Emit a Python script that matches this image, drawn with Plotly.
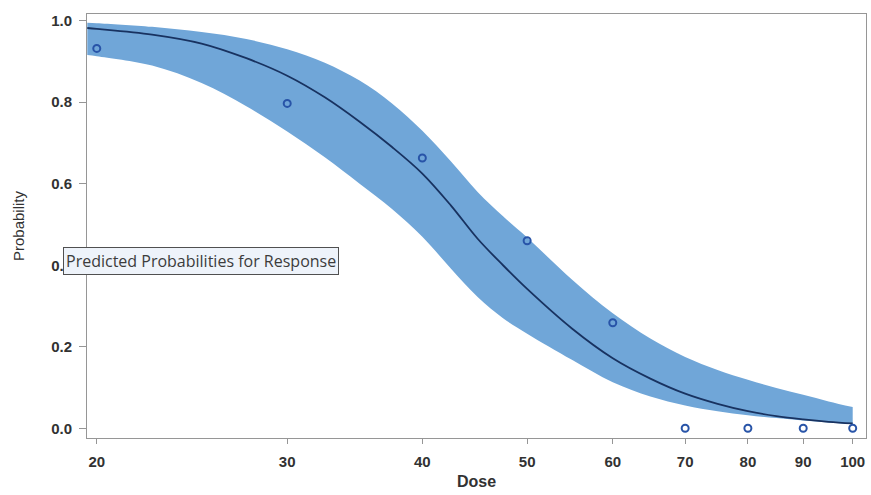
import plotly.graph_objects as go

# Observed proportions
obs_dose = [20, 30, 40, 50, 60, 70, 80, 90, 100]
obs_prob = [0.932, 0.797, 0.663, 0.460, 0.259, 0.0, 0.0, 0.0, 0.0]

# Predicted curve and confidence band
curve_dose = [19.6, 20, 22.5, 25, 27.5, 30, 32.5, 35, 37.5, 40, 42.5, 45, 47.5,
              50, 55, 60, 65, 70, 75, 80, 85, 90, 95, 100]
pred = [0.982, 0.980, 0.966, 0.944, 0.908, 0.865, 0.812, 0.752, 0.690, 0.625,
        0.547, 0.465, 0.400, 0.342, 0.245, 0.172, 0.122, 0.085, 0.060, 0.042,
        0.030, 0.022, 0.016, 0.012]
upper = [0.995, 0.994, 0.985, 0.972, 0.955, 0.930, 0.897, 0.853, 0.797, 0.730,
         0.655, 0.580, 0.520, 0.468, 0.365, 0.282, 0.220, 0.175, 0.143, 0.119,
         0.099, 0.082, 0.066, 0.052]
lower = [0.916, 0.913, 0.890, 0.847, 0.790, 0.728, 0.665, 0.600, 0.538, 0.470,
         0.392, 0.322, 0.270, 0.232, 0.168, 0.113, 0.078, 0.056, 0.042, 0.032,
         0.025, 0.019, 0.014, 0.010]

x_ticks = [20, 30, 40, 50, 60, 70, 80, 90, 100]
y_ticks = [0.0, 0.2, 0.4, 0.6, 0.8, 1.0]

band_color = "rgb(112,166,216)"
line_color = "rgb(24,50,96)"
marker_color = "rgb(40,84,168)"
axis_color = "rgb(150,150,150)"
text_color = "rgb(50,50,50)"
font_fam = "Liberation Sans, Arial, sans-serif"

fig = go.Figure()
fig.add_trace(go.Scatter(x=curve_dose, y=lower, mode="lines",
                         line=dict(width=0, color=band_color, shape="spline"),
                         showlegend=False, hoverinfo="skip"))
fig.add_trace(go.Scatter(x=curve_dose, y=upper, mode="lines", fill="tonexty",
                         fillcolor=band_color,
                         line=dict(width=0, color=band_color, shape="spline"),
                         showlegend=False, hoverinfo="skip"))
fig.add_trace(go.Scatter(x=curve_dose, y=pred, mode="lines",
                         line=dict(width=1.8, color=line_color, shape="spline"),
                         showlegend=False))
fig.add_trace(go.Scatter(x=obs_dose, y=obs_prob, mode="markers",
                         marker=dict(symbol="circle-open", size=7,
                                     line=dict(width=2, color=marker_color),
                                     color=marker_color),
                         showlegend=False, cliponaxis=False))

fig.update_layout(
    width=871, height=495,
    margin=dict(l=87, r=5, t=14, b=57),
    paper_bgcolor="white", plot_bgcolor="white",
    font=dict(family=font_fam, color=text_color),
)
fig.update_xaxes(
    type="log", range=[1.2920, 2.0123],
    tickvals=x_ticks, ticktext=[str(v) for v in x_ticks],
    ticks="outside", ticklen=5, tickcolor=axis_color, tickwidth=1,
    ticklabelstandoff=5,
    showline=True, linecolor=axis_color, linewidth=1, mirror=True,
    showgrid=False, zeroline=False,
    tickfont=dict(size=15, family=font_fam, weight="bold", color=text_color),
    title=dict(text="Dose", standoff=6,
               font=dict(size=16, family=font_fam, weight="bold", color=text_color)),
)
fig.update_yaxes(
    range=[-0.0238, 1.0164],
    tickvals=y_ticks, ticktext=["%.1f" % v for v in y_ticks],
    ticks="outside", ticklen=7, tickcolor=axis_color, tickwidth=1,
    ticklabelstandoff=4,
    showline=True, linecolor=axis_color, linewidth=1, mirror=True,
    showgrid=False, zeroline=False,
    tickfont=dict(size=15, family=font_fam, weight="bold", color=text_color),
    title=dict(text="Probability", standoff=22,
               font=dict(size=15, family="Liberation Sans Narrow, Liberation Sans, sans-serif", color=text_color)),
)

fig.add_annotation(
    xref="paper", yref="paper", x=-0.0305, y=0.4175,
    xanchor="left", yanchor="middle", showarrow=False,
    text="Predicted Probabilities for Response",
    font=dict(size=16, family="Open Sans, Liberation Sans, sans-serif", color="rgb(60,60,60)"),
    bgcolor="rgb(238,243,250)", bordercolor="rgb(80,80,80)", borderwidth=1, borderpad=2,
)

fig.write_html("out.html")
